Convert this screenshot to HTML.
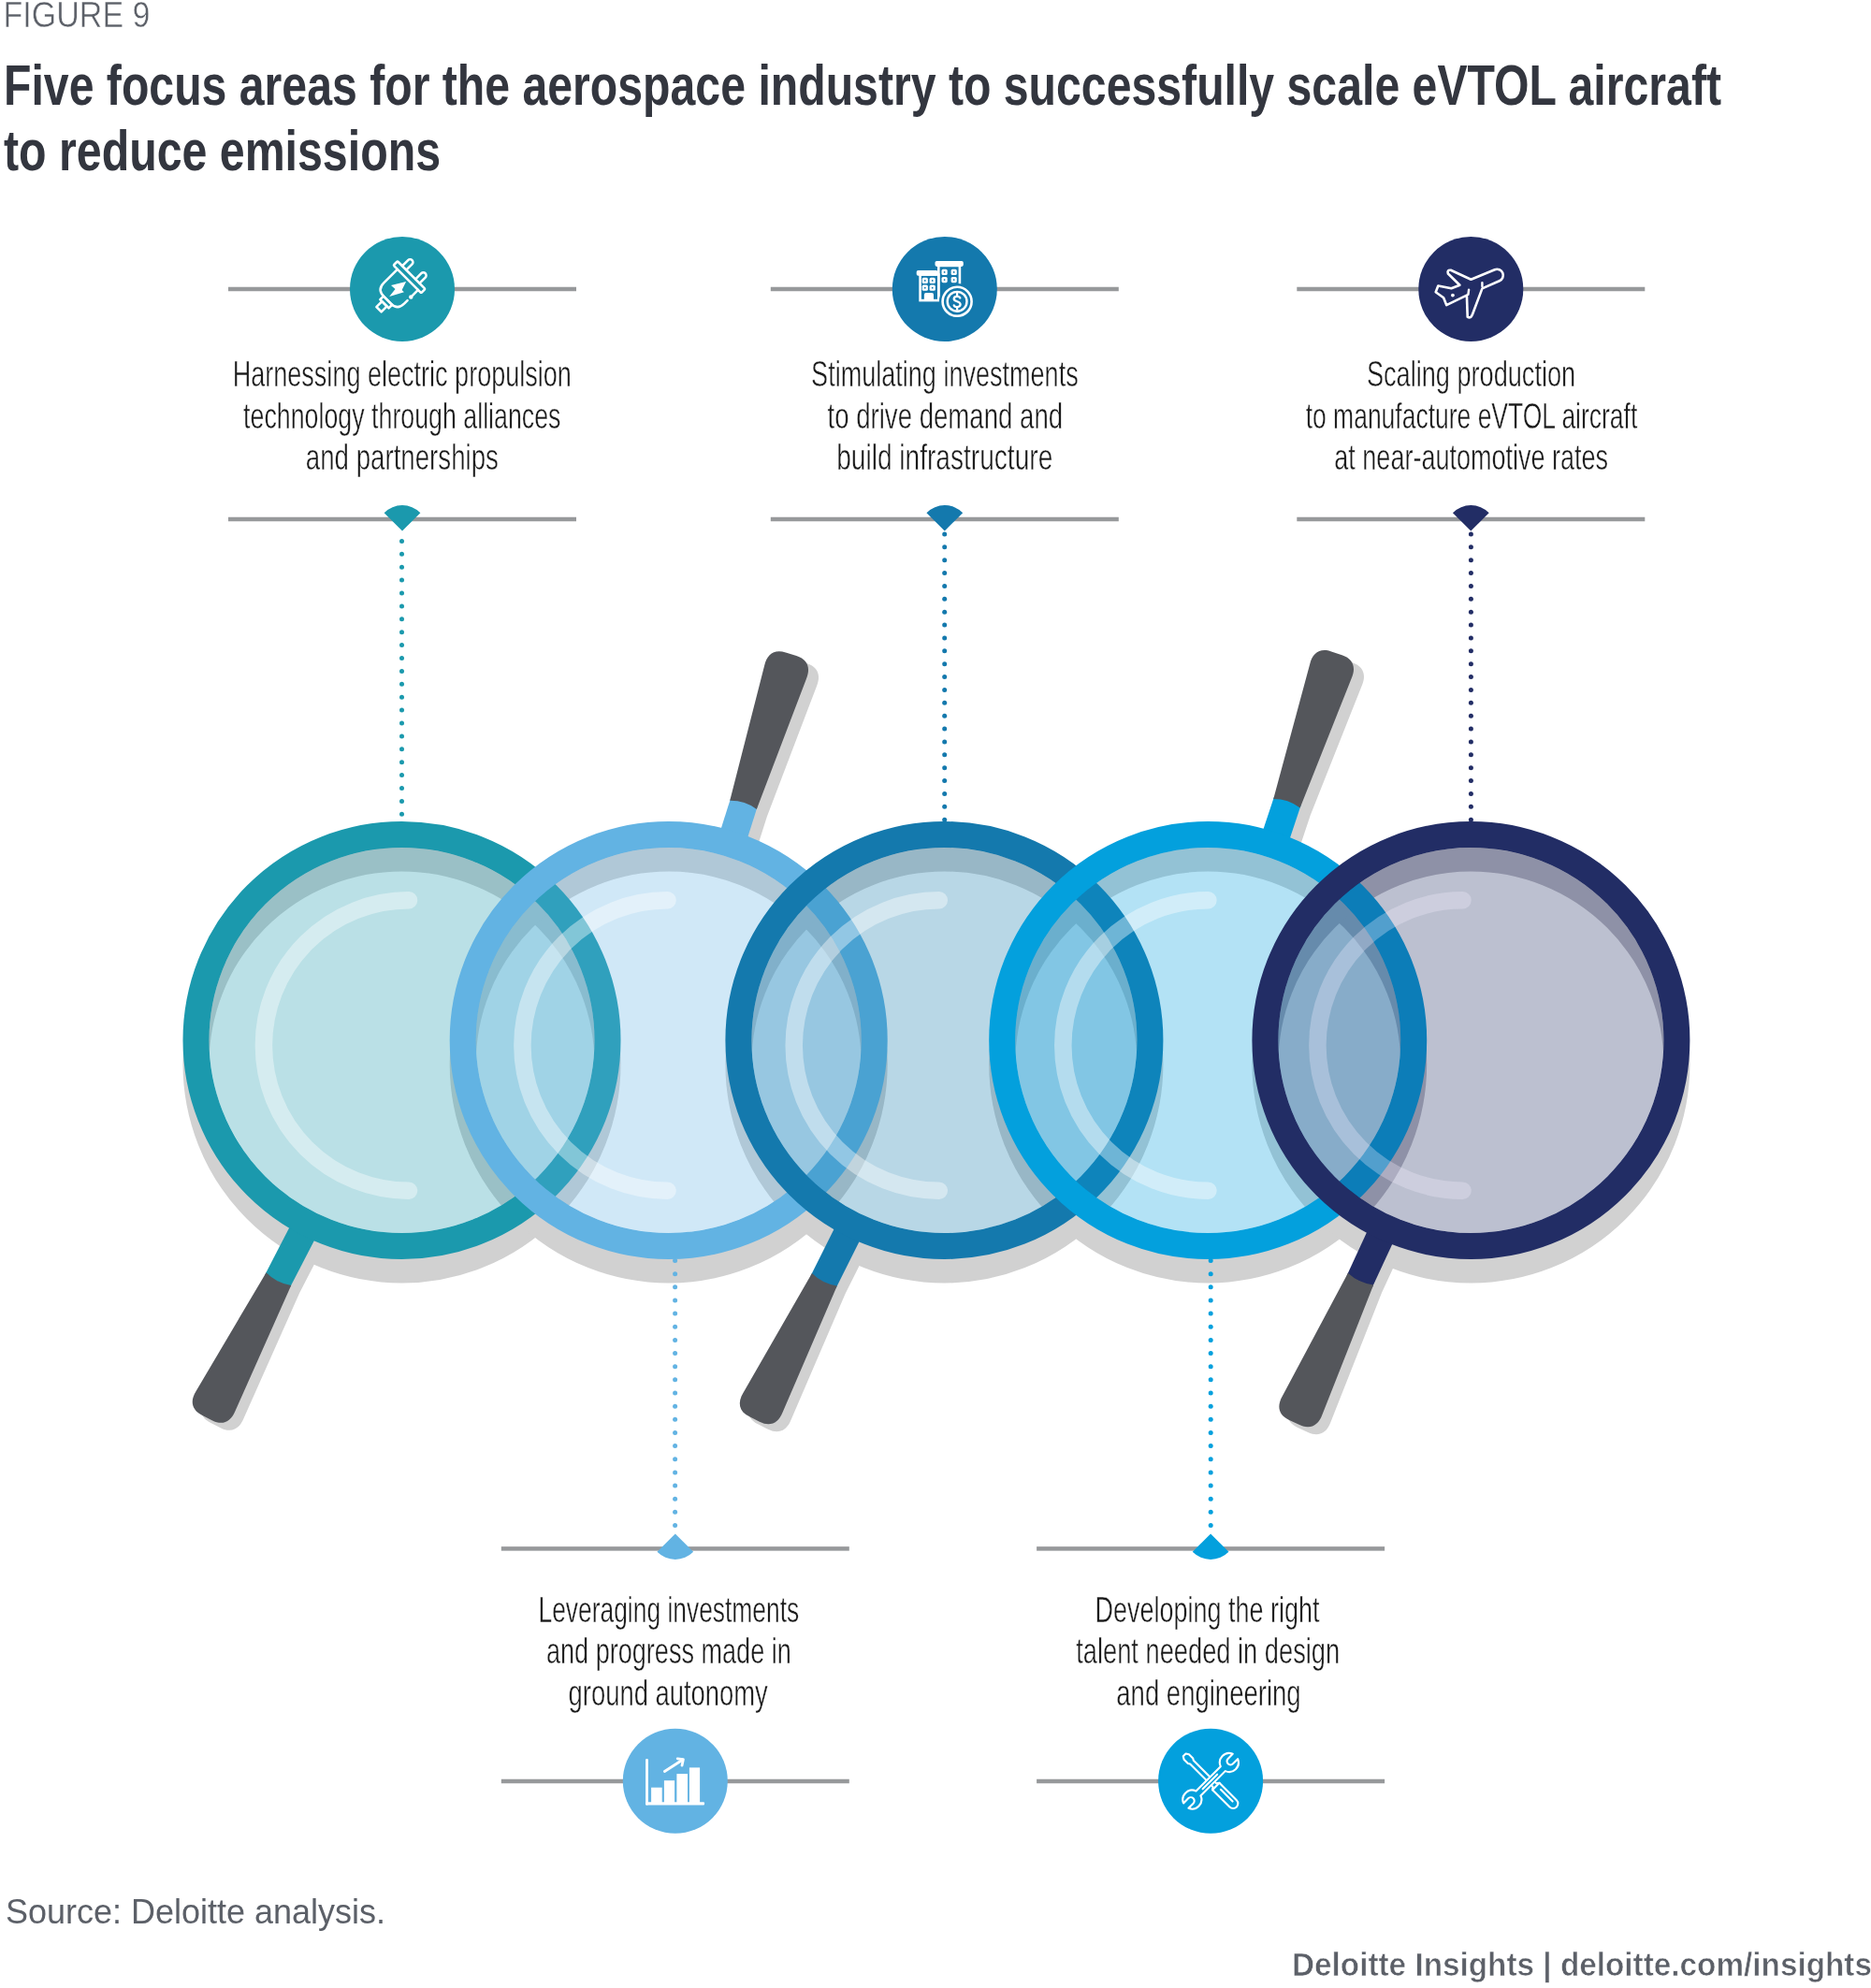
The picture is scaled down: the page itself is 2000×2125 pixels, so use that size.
<!DOCTYPE html><html><head><meta charset="utf-8"><style>html,body{margin:0;padding:0;background:#fff;width:2000px;height:2125px;overflow:hidden}svg{display:block;will-change:transform}</style></head><body>
<svg width="2000" height="2125" viewBox="0 0 2000 2125">
<g font-family="'Liberation Sans', sans-serif">
<text x="3.5" y="28.7" font-size="38" fill="#5c6068" stroke="#fff" stroke-width="0.5" textLength="157" lengthAdjust="spacingAndGlyphs">FIGURE 9</text>
<text x="4" y="112.2" font-size="62" font-weight="bold" fill="#33363f" textLength="1836" lengthAdjust="spacingAndGlyphs">Five focus areas for the aerospace industry to successfully scale eVTOL aircraft</text>
<text x="4" y="181.7" font-size="62" font-weight="bold" fill="#33363f" textLength="467" lengthAdjust="spacingAndGlyphs">to reduce emissions</text>
</g>
<g fill="#d1d1d1">
<circle cx="429.5" cy="1137.5" r="220.0" fill="none" stroke="#d1d1d1" stroke-width="28"/>
<path transform="translate(438.5 1120) rotate(27.3)" d="M -15 210 L 15 210 L 15 287 L 23.5 434 C 24.5 446 19 454 6 454 L -6 454 C -19 454 -24.5 446 -23.5 434 L -15 287 Z"/>
<circle cx="714.7" cy="1137.5" r="220.0" fill="none" stroke="#d1d1d1" stroke-width="28"/>
<path transform="translate(725.7 1120) rotate(197.6)" d="M -15 210 L 15 210 L 15 264 L 23.5 413 C 24.5 425 19 433 6 433 L -6 433 C -19 433 -24.5 425 -23.5 413 L -15 264 Z"/>
<circle cx="1009.4" cy="1137.5" r="220.0" fill="none" stroke="#d1d1d1" stroke-width="28"/>
<path transform="translate(1018.4 1120) rotate(26.6)" d="M -15 210 L 15 210 L 15 286 L 23.5 433 C 24.5 445 19 453 6 453 L -6 453 C -19 453 -24.5 445 -23.5 433 L -15 286 Z"/>
<circle cx="1291.2" cy="1137.5" r="220.0" fill="none" stroke="#d1d1d1" stroke-width="28"/>
<path transform="translate(1302.2 1120) rotate(198.4)" d="M -15 210 L 15 210 L 15 267 L 23.5 416 C 24.5 428 19 436 6 436 L -6 436 C -19 436 -24.5 428 -23.5 416 L -15 267 Z"/>
<circle cx="1572.4" cy="1137.5" r="220.0" fill="none" stroke="#d1d1d1" stroke-width="28"/>
<path transform="translate(1581.4 1120) rotate(24.8)" d="M -15 210 L 15 210 L 15 281 L 23.5 430 C 24.5 442 19 450 6 450 L -6 450 C -19 450 -24.5 442 -23.5 430 L -15 281 Z"/>
</g>
<clipPath id="cl1572"><circle cx="1572.4" cy="1112" r="206"/></clipPath>
<g clip-path="url(#cl1572)" opacity="0.12"><circle cx="1291.2" cy="1137.5" r="220.0" fill="none" stroke="#3a2a6a" stroke-width="28"/><circle cx="1572.4" cy="1137.5" r="220.0" fill="none" stroke="#3a2a6a" stroke-width="28"/></g>
<g transform="translate(429.5 1112) rotate(27.3)"><path d="M -15 210 L 15 210 L 15 290 L -15 290 Z" fill="#1b99ad"/><path d="M -15 287 Q 0 292 15 287 L 23.5 434 C 24.5 446 19 454 6 454 L -6 454 C -19 454 -24.5 446 -23.5 434 Z" fill="#54565b"/></g>
<circle cx="429.5" cy="1112" r="220.0" fill="none" stroke="#1b99ad" stroke-width="28"/>
<circle cx="429.5" cy="1112" r="206" fill="#1b99ad" opacity="0.3"/>
<path d="M 437 962.3 A 155.2 155.2 0 0 0 437 1272.7" fill="none" stroke="#fff" stroke-width="18.5" stroke-linecap="round" opacity="0.4"/>
<g transform="translate(714.7 1112) rotate(197.6)"><path d="M -15 210 L 15 210 L 15 267 L -15 267 Z" fill="#62b3e3"/><path d="M -15 264 Q 0 269 15 264 L 23.5 413 C 24.5 425 19 433 6 433 L -6 433 C -19 433 -24.5 425 -23.5 413 Z" fill="#54565b"/></g>
<circle cx="714.7" cy="1112" r="220.0" fill="none" stroke="#62b3e3" stroke-width="28"/>
<circle cx="714.7" cy="1112" r="206" fill="#62b3e3" opacity="0.3"/>
<path d="M 713.5 962.3 A 155.2 155.2 0 0 0 713.5 1272.7" fill="none" stroke="#fff" stroke-width="18.5" stroke-linecap="round" opacity="0.4"/>
<g transform="translate(1009.4 1112) rotate(26.6)"><path d="M -15 210 L 15 210 L 15 289 L -15 289 Z" fill="#1479ad"/><path d="M -15 286 Q 0 291 15 286 L 23.5 433 C 24.5 445 19 453 6 453 L -6 453 C -19 453 -24.5 445 -23.5 433 Z" fill="#54565b"/></g>
<circle cx="1009.4" cy="1112" r="220.0" fill="none" stroke="#1479ad" stroke-width="28"/>
<circle cx="1009.4" cy="1112" r="206" fill="#1479ad" opacity="0.3"/>
<path d="M 1003.8 962.3 A 155.2 155.2 0 0 0 1003.8 1272.7" fill="none" stroke="#fff" stroke-width="18.5" stroke-linecap="round" opacity="0.4"/>
<g transform="translate(1291.2 1112) rotate(198.4)"><path d="M -15 210 L 15 210 L 15 270 L -15 270 Z" fill="#03a0dd"/><path d="M -15 267 Q 0 272 15 267 L 23.5 416 C 24.5 428 19 436 6 436 L -6 436 C -19 436 -24.5 428 -23.5 416 Z" fill="#54565b"/></g>
<circle cx="1291.2" cy="1112" r="220.0" fill="none" stroke="#03a0dd" stroke-width="28"/>
<circle cx="1291.2" cy="1112" r="206" fill="#03a0dd" opacity="0.3"/>
<path d="M 1291.4 962.3 A 155.2 155.2 0 0 0 1291.4 1272.7" fill="none" stroke="#fff" stroke-width="18.5" stroke-linecap="round" opacity="0.4"/>
<g transform="translate(1572.4 1112) rotate(24.8)"><path d="M -15 210 L 15 210 L 15 284 L -15 284 Z" fill="#222d65"/><path d="M -15 281 Q 0 286 15 281 L 23.5 430 C 24.5 442 19 450 6 450 L -6 450 C -19 450 -24.5 442 -23.5 430 Z" fill="#54565b"/></g>
<circle cx="1572.4" cy="1112" r="220.0" fill="none" stroke="#222d65" stroke-width="28"/>
<circle cx="1572.4" cy="1112" r="206" fill="#222d65" opacity="0.3"/>
<path d="M 1563.5 962.3 A 155.2 155.2 0 0 0 1563.5 1272.7" fill="none" stroke="#f4eeff" stroke-width="18.5" stroke-linecap="round" opacity="0.3"/>
<g fill="#1b99ad"><circle cx="429.5" cy="578.40" r="2.5"/><circle cx="429.5" cy="592.30" r="2.5"/><circle cx="429.5" cy="606.20" r="2.5"/><circle cx="429.5" cy="620.10" r="2.5"/><circle cx="429.5" cy="634.00" r="2.5"/><circle cx="429.5" cy="647.90" r="2.5"/><circle cx="429.5" cy="661.80" r="2.5"/><circle cx="429.5" cy="675.70" r="2.5"/><circle cx="429.5" cy="689.60" r="2.5"/><circle cx="429.5" cy="703.50" r="2.5"/><circle cx="429.5" cy="717.40" r="2.5"/><circle cx="429.5" cy="731.30" r="2.5"/><circle cx="429.5" cy="745.20" r="2.5"/><circle cx="429.5" cy="759.10" r="2.5"/><circle cx="429.5" cy="773.00" r="2.5"/><circle cx="429.5" cy="786.90" r="2.5"/><circle cx="429.5" cy="800.80" r="2.5"/><circle cx="429.5" cy="814.70" r="2.5"/><circle cx="429.5" cy="828.60" r="2.5"/><circle cx="429.5" cy="842.50" r="2.5"/><circle cx="429.5" cy="856.40" r="2.5"/><circle cx="429.5" cy="870.30" r="2.5"/></g>
<g fill="#1479ad"><circle cx="1009.7" cy="571.00" r="2.5"/><circle cx="1009.7" cy="584.87" r="2.5"/><circle cx="1009.7" cy="598.75" r="2.5"/><circle cx="1009.7" cy="612.62" r="2.5"/><circle cx="1009.7" cy="626.49" r="2.5"/><circle cx="1009.7" cy="640.36" r="2.5"/><circle cx="1009.7" cy="654.24" r="2.5"/><circle cx="1009.7" cy="668.11" r="2.5"/><circle cx="1009.7" cy="681.98" r="2.5"/><circle cx="1009.7" cy="695.85" r="2.5"/><circle cx="1009.7" cy="709.73" r="2.5"/><circle cx="1009.7" cy="723.60" r="2.5"/><circle cx="1009.7" cy="737.47" r="2.5"/><circle cx="1009.7" cy="751.35" r="2.5"/><circle cx="1009.7" cy="765.22" r="2.5"/><circle cx="1009.7" cy="779.09" r="2.5"/><circle cx="1009.7" cy="792.96" r="2.5"/><circle cx="1009.7" cy="806.84" r="2.5"/><circle cx="1009.7" cy="820.71" r="2.5"/><circle cx="1009.7" cy="834.58" r="2.5"/><circle cx="1009.7" cy="848.45" r="2.5"/><circle cx="1009.7" cy="862.33" r="2.5"/><circle cx="1009.7" cy="876.20" r="2.5"/></g>
<g fill="#222d65"><circle cx="1572.4" cy="571.00" r="2.5"/><circle cx="1572.4" cy="584.87" r="2.5"/><circle cx="1572.4" cy="598.75" r="2.5"/><circle cx="1572.4" cy="612.62" r="2.5"/><circle cx="1572.4" cy="626.49" r="2.5"/><circle cx="1572.4" cy="640.36" r="2.5"/><circle cx="1572.4" cy="654.24" r="2.5"/><circle cx="1572.4" cy="668.11" r="2.5"/><circle cx="1572.4" cy="681.98" r="2.5"/><circle cx="1572.4" cy="695.85" r="2.5"/><circle cx="1572.4" cy="709.73" r="2.5"/><circle cx="1572.4" cy="723.60" r="2.5"/><circle cx="1572.4" cy="737.47" r="2.5"/><circle cx="1572.4" cy="751.35" r="2.5"/><circle cx="1572.4" cy="765.22" r="2.5"/><circle cx="1572.4" cy="779.09" r="2.5"/><circle cx="1572.4" cy="792.96" r="2.5"/><circle cx="1572.4" cy="806.84" r="2.5"/><circle cx="1572.4" cy="820.71" r="2.5"/><circle cx="1572.4" cy="834.58" r="2.5"/><circle cx="1572.4" cy="848.45" r="2.5"/><circle cx="1572.4" cy="862.33" r="2.5"/><circle cx="1572.4" cy="876.20" r="2.5"/></g>
<g fill="#62b3e3"><circle cx="721.6" cy="1347.50" r="2.5"/><circle cx="721.6" cy="1361.65" r="2.5"/><circle cx="721.6" cy="1375.80" r="2.5"/><circle cx="721.6" cy="1389.95" r="2.5"/><circle cx="721.6" cy="1404.10" r="2.5"/><circle cx="721.6" cy="1418.25" r="2.5"/><circle cx="721.6" cy="1432.40" r="2.5"/><circle cx="721.6" cy="1446.55" r="2.5"/><circle cx="721.6" cy="1460.70" r="2.5"/><circle cx="721.6" cy="1474.85" r="2.5"/><circle cx="721.6" cy="1489.00" r="2.5"/><circle cx="721.6" cy="1503.15" r="2.5"/><circle cx="721.6" cy="1517.30" r="2.5"/><circle cx="721.6" cy="1531.45" r="2.5"/><circle cx="721.6" cy="1545.60" r="2.5"/><circle cx="721.6" cy="1559.75" r="2.5"/><circle cx="721.6" cy="1573.90" r="2.5"/><circle cx="721.6" cy="1588.05" r="2.5"/><circle cx="721.6" cy="1602.20" r="2.5"/><circle cx="721.6" cy="1616.35" r="2.5"/><circle cx="721.6" cy="1630.50" r="2.5"/></g>
<g fill="#03a0dd"><circle cx="1294.2" cy="1347.50" r="2.5"/><circle cx="1294.2" cy="1361.65" r="2.5"/><circle cx="1294.2" cy="1375.80" r="2.5"/><circle cx="1294.2" cy="1389.95" r="2.5"/><circle cx="1294.2" cy="1404.10" r="2.5"/><circle cx="1294.2" cy="1418.25" r="2.5"/><circle cx="1294.2" cy="1432.40" r="2.5"/><circle cx="1294.2" cy="1446.55" r="2.5"/><circle cx="1294.2" cy="1460.70" r="2.5"/><circle cx="1294.2" cy="1474.85" r="2.5"/><circle cx="1294.2" cy="1489.00" r="2.5"/><circle cx="1294.2" cy="1503.15" r="2.5"/><circle cx="1294.2" cy="1517.30" r="2.5"/><circle cx="1294.2" cy="1531.45" r="2.5"/><circle cx="1294.2" cy="1545.60" r="2.5"/><circle cx="1294.2" cy="1559.75" r="2.5"/><circle cx="1294.2" cy="1573.90" r="2.5"/><circle cx="1294.2" cy="1588.05" r="2.5"/><circle cx="1294.2" cy="1602.20" r="2.5"/><circle cx="1294.2" cy="1616.35" r="2.5"/><circle cx="1294.2" cy="1630.50" r="2.5"/></g>
<rect x="244" y="306.75" width="372" height="4.5" fill="#97999b"/>
<rect x="244" y="552.75" width="372" height="4.5" fill="#97999b"/>
<path d="M 430 567.5 L 410.63 548.13 A 27.4 27.4 0 0 1 449.37 548.13 Z" fill="#1b99ad"/>
<circle cx="430" cy="309" r="56" fill="#1b99ad"/>
<g transform="translate(430 309)"><g fill="none" stroke="#fff" stroke-width="2.7" stroke-linejoin="round" stroke-linecap="round">
<g transform="scale(0.93) rotate(45)">
<path d="M -18.8 -19 L -18.8 -28.2 A 3.3 3.3 0 0 1 -12.2 -28.2 L -12.2 -19"/>
<path d="M 2.7 -19 L 2.7 -28.2 A 3.3 3.3 0 0 1 9.3 -28.2 L 9.3 -19"/>
<rect x="-26.5" y="-18.8" width="45" height="6.6" rx="1.2"/>
<path d="M -20 -12.2 L -20 10 Q -20 21 -9 21 L 3 21 Q 13.5 21 13.5 10 L 13.5 5"/>
<path d="M 13.5 -3.5 L 13.5 -12.2"/>
<rect x="-9.5" y="21" width="14" height="5.5"/>
<rect x="-6.5" y="26.5" width="8" height="9"/>
</g>
<circle cx="9.3" cy="8.4" r="0.9" fill="#fff"/>
</g>
<path d="M -12 -3.9 L 4.1 -8 L -0.4 1 L 1.9 3.2 L -13.8 8.1 L -7.5 -0.1 Z" fill="#fff"/></g>
<rect x="823.8" y="306.75" width="372.0" height="4.5" fill="#97999b"/>
<rect x="823.8" y="552.75" width="372.0" height="4.5" fill="#97999b"/>
<path d="M 1009.8 567.5 L 990.43 548.13 A 27.4 27.4 0 0 1 1029.17 548.13 Z" fill="#1479ad"/>
<circle cx="1009.8" cy="309" r="56" fill="#1479ad"/>
<g transform="translate(1009.8 309)"><g fill="none" stroke="#fff" stroke-width="2.6">
<rect x="-26.2" y="-15.5" width="19.7" height="27.6"/>
<path d="M -6.5 12.1 L -6.5 -25 L 16.1 -25 L 16.1 11"/>
</g>
<rect x="-30.1" y="-20" width="22.8" height="5.7" rx="1.8" fill="#fff"/>
<rect x="-10.3" y="-30.1" width="30.3" height="6" rx="1.8" fill="#fff"/>
<path d="M -21.9 11.5 L -21.9 6 Q -21.9 4 -19.9 4 L -13.8 4 Q -11.8 4 -11.8 6 L -11.8 11.5 Z" fill="#fff"/>
<rect x="-24.1" y="-12.2" width="6.2" height="6.2" rx="1.6" fill="#fff"/><circle cx="-21" cy="-9.1" r="0.9" fill="#1479ad"/><rect x="-16.2" y="-12.2" width="6.2" height="6.2" rx="1.6" fill="#fff"/><circle cx="-13.1" cy="-9.1" r="0.9" fill="#1479ad"/><rect x="-24.1" y="-4.4" width="6.2" height="6.2" rx="1.6" fill="#fff"/><circle cx="-21" cy="-1.3" r="0.9" fill="#1479ad"/><rect x="-16.2" y="-4.4" width="6.2" height="6.2" rx="1.6" fill="#fff"/><circle cx="-13.1" cy="-1.3" r="0.9" fill="#1479ad"/><rect x="-3.3000000000000003" y="-21.200000000000003" width="6.2" height="6.2" rx="1.6" fill="#fff"/><circle cx="-0.2" cy="-18.1" r="0.9" fill="#1479ad"/><rect x="6.800000000000001" y="-21.200000000000003" width="6.2" height="6.2" rx="1.6" fill="#fff"/><circle cx="9.9" cy="-18.1" r="0.9" fill="#1479ad"/><rect x="-3.3000000000000003" y="-13.0" width="6.2" height="6.2" rx="1.6" fill="#fff"/><circle cx="-0.2" cy="-9.9" r="0.9" fill="#1479ad"/><rect x="6.800000000000001" y="-13.0" width="6.2" height="6.2" rx="1.6" fill="#fff"/><circle cx="9.9" cy="-9.9" r="0.9" fill="#1479ad"/>
<circle cx="13.3" cy="13.3" r="19.2" fill="#1479ad"/>
<circle cx="13.3" cy="13.3" r="15.5" fill="none" stroke="#fff" stroke-width="2.6"/>
<circle cx="13.3" cy="13.3" r="10.4" fill="none" stroke="#fff" stroke-width="2.4"/>
<g transform="translate(13.3 13.3)" fill="none" stroke="#fff" stroke-width="2.3" stroke-linecap="round"><path d="M 3.2 -3.8 C 2.6 -6 -3.4 -6.4 -3.4 -2.9 C -3.4 0.3 3.5 -0.4 3.5 3 C 3.5 6.6 -2.8 6.5 -3.4 4"/><path d="M 0 -8.6 L 0 -6 M 0 6 L 0 8.6"/></g></g>
<rect x="1386.3" y="306.75" width="372.0" height="4.5" fill="#97999b"/>
<rect x="1386.3" y="552.75" width="372.0" height="4.5" fill="#97999b"/>
<path d="M 1572.3 567.5 L 1552.93 548.13 A 27.4 27.4 0 0 1 1591.67 548.13 Z" fill="#222d65"/>
<circle cx="1572.3" cy="309" r="56" fill="#222d65"/>
<g transform="translate(1572.3 309)"><path d="M -26.1 17.1 L -29.2 9.3 L -37.6 3.3 L -35.0 -3.5 L -20.9 -0.8 L -11.9 -4.2 L -24.4 -16.5 Q -25.8 -20.6 -21.5 -20.2 L 0.1 -10.3 L 25.5 -20.8 A 6.5 6.5 0 0 1 30.5 -8.8 L 12.1 -0.6 L 1.6 27.2 Q 0.2 31.6 -3.6 29.8 L -4.4 6.6 Z" fill="none" stroke="#fff" stroke-width="2.6" stroke-linejoin="round"/>
<path d="M -2.2 0.6 L -2.9 5.8 M 12.1 -6.9 L 12.1 -3.1" stroke="#fff" stroke-width="2.4" stroke-linecap="round"/>
<circle cx="-19.4" cy="6.6" r="1.9" fill="#fff"/></g>
<rect x="535.8" y="1653.15" width="372.0" height="4.5" fill="#97999b"/>
<rect x="535.8" y="1901.75" width="372.0" height="4.5" fill="#97999b"/>
<path d="M 721.8 1639.5 L 741.17 1658.87 A 27.4 27.4 0 0 1 702.43 1658.87 Z" fill="#62b3e3"/>
<circle cx="721.8" cy="1903.8" r="56" fill="#62b3e3"/>
<g transform="translate(721.8 1903.8)"><g fill="#fff">
<rect x="-31.7" y="-23.8" width="2.8" height="49.4" rx="1"/>
<rect x="-31.7" y="22.5" width="62.9" height="3.1" rx="1"/>
<rect x="-25.7" y="6.9" width="11.6" height="16.6"/>
<rect x="-11.9" y="-0.6" width="11.2" height="24.1"/>
<rect x="1.6" y="-7.7" width="11.6" height="31.2"/>
<rect x="15.1" y="-14.4" width="11.2" height="37.9"/>
</g>
<g fill="none" stroke="#fff" stroke-width="2.8" stroke-linecap="round" stroke-linejoin="round">
<path d="M -11.4 -10.3 L 7.6 -22.6"/>
<path d="M 2.4 -24 L 8.6 -23.2 L 7.2 -16.6"/>
</g></g>
<rect x="1108.1" y="1653.15" width="372.0" height="4.5" fill="#97999b"/>
<rect x="1108.1" y="1901.75" width="372.0" height="4.5" fill="#97999b"/>
<path d="M 1294.1 1639.5 L 1313.47 1658.87 A 27.4 27.4 0 0 1 1274.73 1658.87 Z" fill="#03a0dd"/>
<circle cx="1294.1" cy="1903.8" r="56" fill="#03a0dd"/>
<g transform="translate(1294.1 1903.8)"><g fill="none" stroke="#fff" stroke-width="2.1" stroke-linejoin="round" stroke-linecap="round">
<g transform="rotate(-45)"><path d="M -2 -39.5 L 2 -39.5 L 3.8 -36.5 L 3.8 -30.5 L 2.6 -28.5 L 2.6 6 L 5.2 8 L 5.2 34 A 5.2 5.2 0 0 1 -5.2 34 L -5.2 8 L -2.6 6 L -2.6 -28.5 L -3.8 -30.5 L -3.8 -36.5 Z"/><path d="M 1.2 14 L 1.2 32"/><path d="M -5.2 8 L 5.2 8"/></g>
<g transform="rotate(45)"><path d="M 3.5 -18.6 A 10 10 0 0 0 3.8 -37.2 L 3.8 -30 A 3.8 3.8 0 0 1 -3.8 -30 L -3.8 -37.2 A 10 10 0 0 0 -3.5 -18.6 L -3.5 18.6 A 10 10 0 0 0 -3.8 37.2 L -3.8 30 A 3.8 3.8 0 0 1 3.8 30 L 3.8 37.2 A 10 10 0 0 0 3.5 18.6 Z" fill="#03a0dd"/><path d="M 0 -10 L 0 12"/></g>
</g></g>
<g font-family="'Liberation Sans', sans-serif" font-size="38.5" fill="#1a1a1a" stroke="#fff" stroke-width="0.5">
<text x="248.7" y="413.4" textLength="362.2" lengthAdjust="spacingAndGlyphs">Harnessing electric propulsion</text>
<text x="260.1" y="457.8" textLength="339.4" lengthAdjust="spacingAndGlyphs">technology through alliances</text>
<text x="326.8" y="501.9" textLength="206.1" lengthAdjust="spacingAndGlyphs">and partnerships</text>
<text x="867.1" y="413.4" textLength="285.6" lengthAdjust="spacingAndGlyphs">Stimulating investments</text>
<text x="884.5" y="457.8" textLength="251.6" lengthAdjust="spacingAndGlyphs">to drive demand and</text>
<text x="894.2" y="501.9" textLength="231.1" lengthAdjust="spacingAndGlyphs">build infrastructure</text>
<text x="1460.9" y="413.4" textLength="223.3" lengthAdjust="spacingAndGlyphs">Scaling production</text>
<text x="1395.7" y="457.8" textLength="354.6" lengthAdjust="spacingAndGlyphs">to manufacture eVTOL aircraft</text>
<text x="1426.3" y="501.9" textLength="292.8" lengthAdjust="spacingAndGlyphs">at near-automotive rates</text>
<text x="575.5" y="1734" textLength="278.7" lengthAdjust="spacingAndGlyphs">Leveraging investments</text>
<text x="584.0" y="1778.2" textLength="261.8" lengthAdjust="spacingAndGlyphs">and progress made in</text>
<text x="607.6" y="1823" textLength="213.2" lengthAdjust="spacingAndGlyphs">ground autonomy</text>
<text x="1170.6" y="1734" textLength="239.8" lengthAdjust="spacingAndGlyphs">Developing the right</text>
<text x="1150.2" y="1778.2" textLength="282.0" lengthAdjust="spacingAndGlyphs">talent needed in design</text>
<text x="1193.3" y="1823" textLength="197.3" lengthAdjust="spacingAndGlyphs">and engineering</text>
</g>
<g font-family="'Liberation Sans', sans-serif" fill="#5c6068">
<text x="6" y="2056" font-size="37" textLength="406" lengthAdjust="spacingAndGlyphs">Source: Deloitte analysis.</text>
<text x="1381" y="2111.6" font-size="35" font-weight="bold" stroke="#fff" stroke-width="0.6" textLength="620" lengthAdjust="spacingAndGlyphs">Deloitte Insights | deloitte.com/insights</text>
</g>
</svg></body></html>
